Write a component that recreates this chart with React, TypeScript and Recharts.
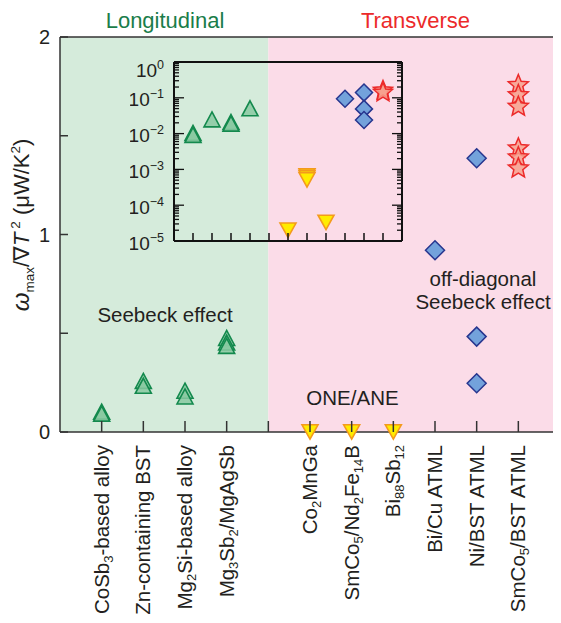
import React from 'react';
import { ScatterChart, Scatter, XAxis, YAxis, ReferenceArea } from 'recharts';

const FONT = '"Liberation Sans", Arial, Helvetica, sans-serif';

// ---------- categories / ticks ----------
const categories = [
  'CoSb_{3}-based alloy',
  'Zn-containing BST',
  'Mg_{2}Si-based alloy',
  'Mg_{3}Sb_{2}/MgAgSb',
  '',
  'Co_{2}MnGa',
  'SmCo_{5}/Nd_{2}Fe_{14}B',
  'Bi_{88}Sb_{12}',
  'Bi/Cu ATML',
  'Ni/BST ATML',
  'SmCo_{5}/BST ATML',
];
const categoryTicks = [1, 2, 3, 4, 5, 6, 7, 8, 9, 10, 11];
const mainYTicks = [0, 0.5, 1, 1.5, 2];
const mainYLabels = [0, 1, 2];
const insetDecades = [1e-5, 1e-4, 1e-3, 1e-2, 1e-1, 1];
const insetMinorFactors = [2, 3, 4, 5, 6, 7, 8, 9];

// ---------- main-plot data (omega_max / gradT^2, uW/K^2) ----------
const seebeckMain = [
  { x: 1, y: 0.103 }, { x: 1, y: 0.093 },
  { x: 2, y: 0.259 }, { x: 2, y: 0.234 },
  { x: 3, y: 0.209 }, { x: 3, y: 0.18 },
  { x: 4, y: 0.476 }, { x: 4, y: 0.453 }, { x: 4, y: 0.436 },
];
const oneAneMain = [{ x: 6, y: 0 }, { x: 7, y: 0 }, { x: 8, y: 0 }];
const atmlMain = [{ x: 9, y: 0.92 }, { x: 10, y: 1.386 }, { x: 10, y: 0.483 }, { x: 10, y: 0.247 }];
const smcoMain = [
  { x: 11, y: 1.757 }, { x: 11, y: 1.706 }, { x: 11, y: 1.647 },
  { x: 11, y: 1.436 }, { x: 11, y: 1.391 }, { x: 11, y: 1.335 },
];

// ---------- inset data (log scale) ----------
const seebeckInset = [
  { x: 1, y: 0.0105 }, { x: 1, y: 0.0092 }, { x: 2, y: 0.025 },
  { x: 3, y: 0.021 }, { x: 3, y: 0.019 }, { x: 4, y: 0.051 },
];
const oneAneInset = [
  { x: 6, y: 2.0e-5 }, { x: 7, y: 6.5e-4 }, { x: 7, y: 5.8e-4 }, { x: 7, y: 5.1e-4 }, { x: 8, y: 3.3e-5 },
];
const atmlInset = [{ x: 9, y: 0.094 }, { x: 10, y: 0.14 }, { x: 10, y: 0.049 }, { x: 10, y: 0.024 }];
const smcoInset = [{ x: 11, y: 0.16 }, { x: 11, y: 0.14 }];

const insetTicks: number[] = [];
insetDecades.forEach((d) => {
  insetTicks.push(d);
  if (d < 1) insetMinorFactors.forEach((m) => insetTicks.push(m * d));
});

// ---------- colors ----------
const GREEN_BG = '#d5ebdb';
const PINK_BG = '#fbdce8';
const AXIS = '#333';
const TXT = '#231f20';

// ---------- shapes ----------
const TriUp = (p: any) => {
  const { cx, cy } = p;
  if (cx == null || cy == null) return <g />;
  const w = 8, h = 7.5;
  return (
    <polygon
      points={`${cx},${cy - h} ${cx + w},${cy + h} ${cx - w},${cy + h}`}
      fill="#88c9a1" fillOpacity={0.85} stroke="#13894d" strokeWidth={1.6}
    />
  );
};
const TriDown = (p: any) => {
  const { cx, cy } = p;
  if (cx == null || cy == null) return <g />;
  const w = 8, h = 7.2;
  return (
    <polygon
      points={`${cx - w},${cy - h} ${cx + w},${cy - h} ${cx},${cy + h}`}
      fill="#ffec00" stroke="#f49a1c" strokeWidth={1.6}
    />
  );
};
const makeDiamond = (r: number) => (p: any) => {
  const { cx, cy } = p;
  if (cx == null || cy == null) return <g />;
  return (
    <polygon
      points={`${cx},${cy - r} ${cx + r},${cy} ${cx},${cy + r} ${cx - r},${cy}`}
      fill="#73a2db" stroke="#27368f" strokeWidth={1.5}
    />
  );
};
const makeStar = (R: number) => (p: any) => {
  const { cx, cy } = p;
  if (cx == null || cy == null) return <g />;
  const r = R * 0.45;
  const pts: string[] = [];
  for (let i = 0; i < 10; i++) {
    const a = -Math.PI / 2 + (i * Math.PI) / 5;
    const rr = i % 2 === 0 ? R : r;
    pts.push(`${cx + rr * Math.cos(a)},${cy + rr * Math.sin(a)}`);
  }
  return <polygon points={pts.join(' ')} fill="#f7a08c" fillOpacity={0.85} stroke="#ec2a2a" strokeWidth={1.5} />;
};
const DiamondMain = makeDiamond(9.5);
const DiamondInset = makeDiamond(8.5);
const StarMain = makeStar(10.5);
const StarInset = makeStar(10);

// ---------- rich text (sub/superscripts) ----------
function rich(s: string, smallSize: number, subDy: number, supDy: number) {
  const parts = s.split(/(_\{[^}]*\}|\^\{[^}]*\})/).filter((q) => q !== '');
  let shift = 0;
  return parts.map((q, i) => {
    let target = 0;
    let txt = q;
    let size: number | undefined;
    if (q.startsWith('_{')) {
      target = subDy; txt = q.slice(2, -1); size = smallSize;
    } else if (q.startsWith('^{')) {
      target = -supDy; txt = q.slice(2, -1); size = smallSize;
    }
    const dy = target - shift;
    shift = target;
    return (
      <tspan key={i} dy={dy !== 0 ? dy : undefined} fontSize={size}>
        {txt}
      </tspan>
    );
  });
}

// ---------- main ticks ----------
const MainBottomTick = (p: any) => {
  const { x, y, payload } = p;
  const v = payload.value;
  const label = categories[v - 1];
  return (
    <g>
      <line x1={x} x2={x} y1={y} y2={y - 11} stroke={AXIS} strokeWidth={1.5} />
      {label ? (
        <text
          transform={`translate(${x},${y}) rotate(-90)`}
          x={-13}
          y={7}
          textAnchor="end"
          fontSize={20.5}
          fill={TXT}
          fontFamily={FONT}
        >
          {rich(label, 13, 4, 8)}
        </text>
      ) : null}
    </g>
  );
};
const MainTopTick = (p: any) => {
  const { x, y } = p;
  return <line x1={x} x2={x} y1={y} y2={y + 10} stroke={AXIS} strokeWidth={1.5} />;
};
const MainLeftTick = (p: any) => {
  const { x, y, payload } = p;
  const v = payload.value;
  return (
    <g>
      <line x1={x} x2={x + 8} y1={y} y2={y} stroke={AXIS} strokeWidth={1.5} />
      {mainYLabels.includes(v) ? (
        <text x={x - 10} y={y + 7} textAnchor="end" fontSize={20} fill={TXT} fontFamily={FONT}>
          {v}
        </text>
      ) : null}
    </g>
  );
};
const MainRightTick = (p: any) => {
  const { x, y } = p;
  return <line x1={x} x2={x - 5} y1={y} y2={y} stroke={AXIS} strokeWidth={1.5} />;
};

// ---------- inset ticks ----------
const isDecade = (v: number) => {
  const l = Math.log10(v);
  return Math.abs(l - Math.round(l)) < 1e-6;
};
const InsetLeftTick = (p: any) => {
  const { x, y, payload } = p;
  const v = payload.value;
  const major = isDecade(v);
  const e = Math.round(Math.log10(v));
  const off = e === 0 ? 8 : 2;
  return (
    <g>
      <line x1={x} x2={x + (major ? 10 : 5)} y1={y} y2={y} stroke="#111" strokeWidth={1.3} />
      {major ? (
        <text x={x - 10} y={y + 6.5 + off} textAnchor="end" fontSize={19} fill={TXT} fontFamily={FONT}>
          10
          <tspan fontSize={12.5} dy={-8}>{e === 0 ? '0' : '\u2212' + Math.abs(e)}</tspan>
        </text>
      ) : null}
    </g>
  );
};
const InsetRightTick = (p: any) => {
  const { x, y, payload } = p;
  const major = isDecade(payload.value);
  return <line x1={x} x2={x - (major ? 10 : 5)} y1={y} y2={y} stroke="#111" strokeWidth={1.3} />;
};
const InsetTopTick = (p: any) => {
  const { x, y } = p;
  return <line x1={x} x2={x} y1={y} y2={y + 7} stroke="#111" strokeWidth={1.5} />;
};
const InsetBottomTick = (p: any) => {
  const { x, y } = p;
  return <line x1={x} x2={x} y1={y} y2={y - 8} stroke="#111" strokeWidth={1.5} />;
};

// ---------- annotations (overlay in page coordinates) ----------
const Annotations = () => (
  <svg
    width={553}
    height={615}
    viewBox="8 8 553 615"
    style={{ position: 'absolute', left: 0, top: 0, pointerEvents: 'none' }}
  >
    <g fontFamily={FONT}>
      <text x={165} y={28} textAnchor="middle" fontSize={22} fill="#1a7d4a">Longitudinal</text>
      <text x={415.5} y={28} textAnchor="middle" fontSize={22} fill="#ec2a2a">Transverse</text>
      <text x={165} y={322} textAnchor="middle" fontSize={20.5} fill={TXT}>Seebeck effect</text>
      <text x={483} y={286} textAnchor="middle" fontSize={20.5} fill={TXT}>off-diagonal</text>
      <text x={483} y={309} textAnchor="middle" fontSize={20.5} fill={TXT}>Seebeck effect</text>
      <text x={352.5} y={405} textAnchor="middle" fontSize={20.5} fill={TXT}>ONE/ANE</text>
      <text transform="translate(29,225) rotate(-90)" textAnchor="middle" fontSize={22} fill={TXT}>
        <tspan fontStyle="italic" fontSize={24}>ω</tspan>
        <tspan fontSize={13.5} dy={5}>max</tspan>
        <tspan dy={-5}>/∇</tspan>
        <tspan fontStyle="italic">T</tspan>
        <tspan fontSize={13.5} dy={-9}> 2</tspan>
        <tspan dy={9}> (μW/K</tspan>
        <tspan fontSize={13.5} dy={-9}>2</tspan>
        <tspan dy={9}>)</tspan>
      </text>
    </g>
  </svg>
);

const mainAxisLine = { stroke: AXIS, strokeWidth: 1.5 };
const insetAxisLine = { stroke: '#111', strokeWidth: 2 };

export default function App() {
  return (
    <div style={{ position: 'relative', width: 553, height: 615, fontFamily: FONT }}>
      <ScatterChart width={553} height={615} margin={{ top: 28, right: 0, bottom: 0, left: 0 }}>
        <XAxis
          xAxisId="b" dataKey="x" type="number" domain={[0, 12]} ticks={categoryTicks} interval={0}
          height={191} tickSize={0} tickMargin={0} tickLine={false} axisLine={mainAxisLine}
          tick={(p: any) => <MainBottomTick {...p} />}
        />
        <XAxis
          xAxisId="t" orientation="top" type="number" domain={[0, 12]} ticks={categoryTicks} interval={0}
          height={1} tickSize={0} tickMargin={0} tickLine={false} axisLine={mainAxisLine}
          tick={(p: any) => <MainTopTick {...p} />}
        />
        <YAxis
          yAxisId="l" dataKey="y" type="number" domain={[0, 2]} ticks={mainYTicks} interval={0}
          width={52} tickSize={0} tickMargin={0} tickLine={false} axisLine={mainAxisLine}
          tick={(p: any) => <MainLeftTick {...p} />}
        />
        <YAxis
          yAxisId="r" orientation="right" type="number" domain={[0, 2]} ticks={mainYTicks} interval={0}
          width={1} tickSize={0} tickMargin={0} tickLine={false} axisLine={false}
          tick={(p: any) => <MainRightTick {...p} />}
        />
        <ReferenceArea xAxisId="b" yAxisId="l" x1={0} x2={5} y1={0} y2={2} fill={GREEN_BG} fillOpacity={1} stroke="none" />
        <ReferenceArea xAxisId="b" yAxisId="l" x1={5} x2={12} y1={0} y2={2} fill={PINK_BG} fillOpacity={1} stroke="none" />
        <Scatter xAxisId="b" yAxisId="l" data={seebeckMain} shape={TriUp} isAnimationActive={false} />
        <Scatter xAxisId="b" yAxisId="l" data={oneAneMain} shape={TriDown} isAnimationActive={false} />
        <Scatter xAxisId="b" yAxisId="l" data={atmlMain} shape={DiamondMain} isAnimationActive={false} />
        <Scatter xAxisId="b" yAxisId="l" data={smcoMain} shape={StarMain} isAnimationActive={false} />
      </ScatterChart>

      <Annotations />

      <div style={{ position: 'absolute', left: 122, top: 42 }}>
        <ScatterChart width={273} height={210} margin={{ top: 11, right: 0, bottom: 18, left: 0 }}>
          <XAxis
            xAxisId="b" dataKey="x" type="number" domain={[0, 12]} ticks={categoryTicks} interval={0}
            height={1} tickSize={0} tickMargin={0} tickLine={false} axisLine={insetAxisLine}
            tick={(p: any) => <InsetBottomTick {...p} />}
          />
          <XAxis
            xAxisId="t" orientation="top" type="number" domain={[0, 12]} ticks={categoryTicks} interval={0}
            height={1} tickSize={0} tickMargin={0} tickLine={false} axisLine={insetAxisLine}
            tick={(p: any) => <InsetTopTick {...p} />}
          />
          <YAxis
            yAxisId="l" dataKey="y" type="number" scale="log" domain={[1e-5, 1]} allowDataOverflow
            ticks={insetTicks} interval={0} width={44} tickSize={0} tickMargin={0} tickLine={false}
            axisLine={insetAxisLine} tick={(p: any) => <InsetLeftTick {...p} />}
          />
          <YAxis
            yAxisId="r" orientation="right" type="number" scale="log" domain={[1e-5, 1]} allowDataOverflow
            ticks={insetTicks} interval={0} width={1} tickSize={0} tickMargin={0} tickLine={false}
            axisLine={insetAxisLine} tick={(p: any) => <InsetRightTick {...p} />}
          />
          <Scatter xAxisId="b" yAxisId="l" data={seebeckInset} shape={TriUp} isAnimationActive={false} />
          <Scatter xAxisId="b" yAxisId="l" data={oneAneInset} shape={TriDown} isAnimationActive={false} />
          <Scatter xAxisId="b" yAxisId="l" data={atmlInset} shape={DiamondInset} isAnimationActive={false} />
          <Scatter xAxisId="b" yAxisId="l" data={smcoInset} shape={StarInset} isAnimationActive={false} />
        </ScatterChart>
      </div>
    </div>
  );
}
